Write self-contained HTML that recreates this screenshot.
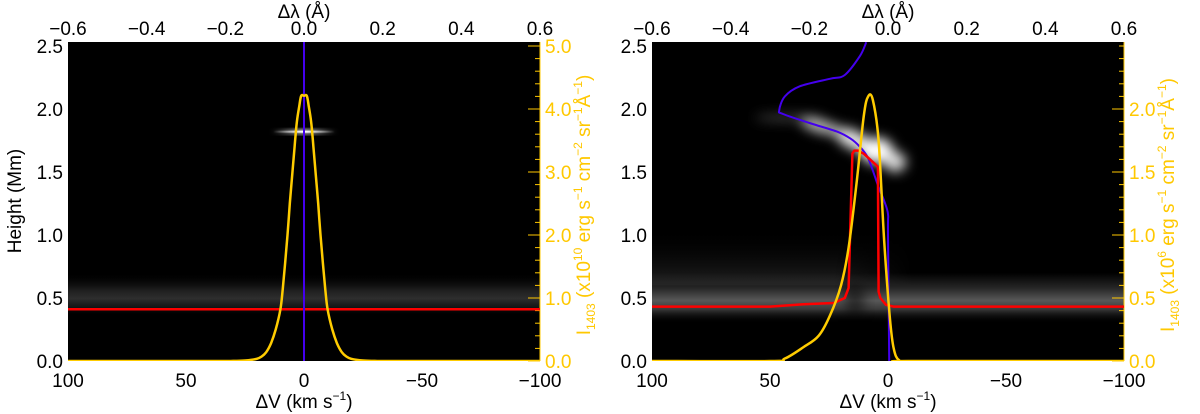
<!DOCTYPE html>
<html><head><meta charset="utf-8"><style>
html,body{margin:0;padding:0;background:#fff;}
svg{display:block;font-family:"Liberation Sans",sans-serif;}
</style></head><body>
<svg id="fig" width="1200" height="414" viewBox="0 0 1200 414" xmlns="http://www.w3.org/2000/svg">
<defs>
<filter id="b2" x="-50%" y="-50%" width="200%" height="200%"><feGaussianBlur stdDeviation="2"/></filter>
<filter id="b4" x="-50%" y="-50%" width="200%" height="200%"><feGaussianBlur stdDeviation="4"/></filter>
<filter id="b6" x="-50%" y="-50%" width="200%" height="200%"><feGaussianBlur stdDeviation="6"/></filter>
<linearGradient id="bandL" x1="0" y1="0" x2="0" y2="1">
<stop offset="0" stop-color="#000" stop-opacity="0"/><stop offset="0.4" stop-color="#1e1e1e"/><stop offset="0.6" stop-color="#2e2e2e"/><stop offset="0.8" stop-color="#161616"/><stop offset="1" stop-color="#000" stop-opacity="0"/></linearGradient>
<linearGradient id="bandR" x1="0" y1="0" x2="0" y2="1">
<stop offset="0" stop-color="#262626" stop-opacity="0"/><stop offset="0.3" stop-color="#262626"/><stop offset="0.55" stop-color="#585858"/><stop offset="0.72" stop-color="#3a3a3a"/><stop offset="1" stop-color="#000" stop-opacity="0"/></linearGradient>
<linearGradient id="hazeR" x1="0" y1="0" x2="0" y2="1">
<stop offset="0" stop-color="#000" stop-opacity="0"/><stop offset="1" stop-color="#222"/></linearGradient>
<linearGradient id="hazeRx" x1="0" y1="0" x2="1" y2="0">
<stop offset="0" stop-color="#fff"/><stop offset="0.7" stop-color="#fff"/><stop offset="1" stop-color="#fff" stop-opacity="0"/></linearGradient>
<mask id="hazeMask"><rect x="652" y="200" width="260" height="120" fill="url(#hazeRx)"/></mask>
<linearGradient id="streak" x1="0" y1="0" x2="1" y2="0">
<stop offset="0" stop-color="#fff" stop-opacity="0"/><stop offset="0.5" stop-color="#fff"/><stop offset="1" stop-color="#fff" stop-opacity="0"/></linearGradient>
<clipPath id="cpL"><rect x="68" y="42" width="472" height="319"/></clipPath>
<clipPath id="cpR"><rect x="652" y="42" width="472" height="319"/></clipPath>
</defs>
</svg>
<script>
// ---- data ----
const leftYellowV = [100,40,30,25,22,20,18,16,14,12,10,9,8,7,6,5,4,3,2,1.2,0,-1.2,-2,-3,-4,-5,-6,-7,-8,-9,-10,-12,-14,-16,-18,-20,-22,-25,-30,-40,-100];
const leftYellowI = [0,0,0.002,0.008,0.02,0.035,0.07,0.14,0.28,0.5,0.82,1.15,1.55,2.0,2.5,2.95,3.4,3.8,4.05,4.21,4.21,4.21,4.05,3.8,3.4,2.95,2.5,2.0,1.55,1.15,0.82,0.5,0.28,0.14,0.07,0.035,0.02,0.008,0.002,0,0];
const leftBlueV = [0,0];
const leftBlueH = [0,2.6];
const leftRedV = [100,-100];
const leftRedH = [0.41,0.41];
const rightBlueV = [9.2,11.9,18.3,24.6,37.4,43.7,46.1,44.5,32.6,21.5,15.9,11.9,8.7,6.4,4.0,1.6,0,0,-0.5];
const rightBlueH = [2.53,2.42,2.27,2.24,2.18,2.10,1.99,1.96,1.885,1.82,1.765,1.70,1.62,1.51,1.38,1.27,1.165,1.0,0];
const rightRedV = [100,50,35.8,23,18.3,16.7,15.1,14.3,12.7,10.3,5.6,4.3,4.0,3.2,0.8,-2.4,-100];
const rightRedH = [0.432,0.432,0.45,0.46,0.50,0.58,1.645,1.67,1.67,1.645,1.565,1.54,0.55,0.50,0.445,0.432,0.432];
const rightYellowV = [100,50,43.7,35.8,29.4,24.6,19.9,16.7,13.5,10.3,8.4,6.4,4.0,1.6,-0.8,-2.4,-4.8,-10,-100];
const rightYellowI = [0,0,0.02,0.11,0.2,0.36,0.6,0.9,1.38,1.94,2.1,2.07,1.75,0.95,0.34,0.1,0.005,0,0];
const vTicks = [100,50,0,-50,-100];
const vTickLabels = ["100","50","0","\u221250","\u2212100"];
const lamTicks = [-0.6,-0.4,-0.2,0.0,0.2,0.4,0.6];
const lamTickLabels = ["\u22120.6","\u22120.4","\u22120.2","0.0","0.2","0.4","0.6"];
const hTicks = [0,0.5,1.0,1.5,2.0,2.5];
const hTickLabels = ["0.0","0.5","1.0","1.5","2.0","2.5"];
const iTicksL = [0,1,2,3,4,5];
const iTickLabelsL = ["0.0","1.0","2.0","3.0","4.0","5.0"];
const iTicksR = [0,0.5,1.0,1.5,2.0];
const iTickLabelsR = ["0.0","0.5","1.0","1.5","2.0"];

const NS = "http://www.w3.org/2000/svg";
const svg = document.getElementById('fig');
function mk(tag, attrs, parent, text){
  const e = document.createElementNS(NS, tag);
  for (const k in attrs) e.setAttribute(k, attrs[k]);
  if (text !== undefined) e.textContent = text;
  (parent||svg).appendChild(e);
  return e;
}
const W = 472, TOP = 42, BOT = 361, FS = 19;
function xV(x0, v){ return x0 + (100 - v) / 200 * W; }
function xL(x0, l){ return x0 + (l + 0.6) / 1.2 * W; }
function yH(h){ return BOT - 126 * h; }
function yIL(i){ return BOT - 63 * i; }
function yIR(i){ return BOT - 126 * i; }
const YEL = "#ffc800";

function panel(x0, name, iTicks, iLabels, yI, iMax, minorStep, expo, clip){
  const g = mk('g', {});
  
  
  const bg = mk('rect', {x:x0, y:TOP, width:W, height:BOT-TOP, fill:'#000'}, g);
  
  
  const hm = mk('g', {'clip-path':'url(#'+clip+')'}, g);
  
  
  hTicks.forEach((h,k)=>{
    const t = mk('text', {x:x0-5, y:yH(h)+7, 'text-anchor':'end', 'font-size':FS, fill:'#000'}, g, hTickLabels[k]);
    
    
  });
  vTicks.forEach((v,k)=>{
    const t = mk('text', {x:xV(x0,v), y:387, 'text-anchor':'middle', 'font-size':FS, fill:'#000'}, g, vTickLabels[k]);
    
    
  });
  lamTicks.forEach((l,k)=>{
    const t = mk('text', {x:xL(x0,l), y:35, 'text-anchor':'middle', 'font-size':FS, fill:'#000'}, g, lamTickLabels[k]);
    
    
  });
  const xt = mk('text', {x:x0+W/2, y:408, 'text-anchor':'middle', 'font-size':FS, fill:'#000'}, g);
  xt.innerHTML = '\u0394V (km s<tspan dy="-8" font-size="12">\u22121</tspan><tspan dy="8">)</tspan>';
  
  
  const tt = mk('text', {x:x0+W/2, y:18, 'text-anchor':'middle', 'font-size':FS, fill:'#000'}, g, '\u0394\u03bb (\u00c5)');
  
  
  const ax = mk('g', {}, g);
  
  
  for (let v=0; v<=iMax+1e-6; v+=minorStep){
    const y = yI(v);
    if (y < TOP-1) break;
    mk('line', {x1:x0+W, x2:x0+W-5, y1:y, y2:y, stroke:YEL, 'stroke-width':1}, ax);
  }
  iTicks.forEach((v,k)=>{
    mk('line', {x1:x0+W, x2:x0+W-12, y1:yI(v), y2:yI(v), stroke:YEL, 'stroke-width':1}, ax);
    const t = mk('text', {x:x0+W+5, y:yI(v)+7, 'font-size':FS, fill:YEL}, ax, iLabels[k]);
    
    
  });
  mk('line', {x1:x0+W, x2:x0+W, y1:TOP, y2:BOT, stroke:YEL, 'stroke-width':1}, ax);
  const rx = x0 + W + 50, ry = 205;
  const rt = mk('text', {x:0, y:0, 'text-anchor':'middle', 'font-size':FS, fill:YEL, transform:'translate('+rx+','+ry+') rotate(-90)'}, g);
  rt.innerHTML = 'I<tspan dy="5" font-size="12">1403</tspan><tspan dy="-5"> (x10</tspan><tspan dy="-8" font-size="12">'+expo+'</tspan><tspan dy="8"> erg s</tspan><tspan dy="-8" font-size="12">\u22121</tspan><tspan dy="8"> cm</tspan><tspan dy="-8" font-size="12">\u22122</tspan><tspan dy="8"> sr</tspan><tspan dy="-8" font-size="12">\u22121</tspan><tspan dy="8">\u00c5</tspan><tspan dy="-8" font-size="12">\u22121</tspan><tspan dy="8">)</tspan>';
  
  
  return {g, hm};
}
function line(parent, xs, ys, color, width, name, smooth){
  let d;
  if (!smooth) {
    d = xs.map((x,k)=>(k?'L':'M')+x.toFixed(1)+','+ys[k].toFixed(1)).join(' ');
  } else {
    d = 'M'+xs[0].toFixed(1)+','+ys[0].toFixed(1);
    for (let k=0;k<xs.length-1;k++){
      const x0=xs[Math.max(k-1,0)], y0=ys[Math.max(k-1,0)];
      const x3=xs[Math.min(k+2,xs.length-1)], y3=ys[Math.min(k+2,xs.length-1)];
      const c1x=xs[k]+(xs[k+1]-x0)/6, c1y=ys[k]+(ys[k+1]-y0)/6;
      const c2x=xs[k+1]-(x3-xs[k])/6, c2y=ys[k+1]-(y3-ys[k])/6;
      d += ' C'+c1x.toFixed(1)+','+c1y.toFixed(1)+' '+c2x.toFixed(1)+','+c2y.toFixed(1)+' '+xs[k+1].toFixed(1)+','+ys[k+1].toFixed(1);
    }
  }
  const p = mk('path', {d, fill:'none', stroke:color, 'stroke-width':width, 'stroke-linejoin':'round'}, parent);
  
  
  return p;
}

// ---- left panel ----
const L = panel(68, 'left-panel', iTicksL, iTickLabelsL, yIL, 5, 0.2, '10', 'cpL');
mk('rect', {x:68, y:yH(0.7), width:W, height:yH(0.36)-yH(0.7), fill:'url(#bandL)'}, L.hm);
mk('ellipse', {cx:xV(68,0), cy:yH(1.82), rx:34, ry:2, fill:'url(#streak)', filter:'url(#b2)'}, L.hm);
mk('rect', {x:xV(68,13), y:yH(1.82)-1, width:xV(68,-13)-xV(68,13), height:2, fill:'url(#streak)'}, L.hm);
const lc = mk('g', {'clip-path':'url(#cpL)'}, L.g);
line(lc, leftRedV.map(v=>xV(68,v)), leftRedH.map(yH), '#ff0000', 2.5, 'left-red-line');
line(lc, leftBlueV.map(v=>xV(68,v)), leftBlueH.map(yH), '#4400ee', 2, 'left-blue-velocity-line');
line(lc, leftYellowV.map(v=>xV(68,v)), leftYellowI.map(yIL), '#ffcc00', 2.5, 'left-intensity-profile', true);
const yl = mk('text', {x:0, y:0, 'text-anchor':'middle', 'font-size':FS, fill:'#000', transform:'translate(21,201) rotate(-90)'}, L.g, 'Height (Mm)');



// ---- right panel ----
const R = panel(652, 'right-panel', iTicksR, iTickLabelsR, yIR, 2.53, 0.1, '6', 'cpR');
mk('rect', {x:652, y:yH(1.05), width:260, height:yH(0.6)-yH(1.05), fill:'url(#hazeR)', mask:'url(#hazeMask)'}, R.hm);
mk('rect', {x:652, y:yH(0.7), width:W, height:yH(0.3)-yH(0.7), fill:'url(#bandR)'}, R.hm);
mk('ellipse', {cx:xV(652,14), cy:yH(0.48), rx:10, ry:16, fill:'#000', filter:'url(#b6)', opacity:0.5}, R.hm);
const blob = mk('g', {filter:'url(#b6)'}, R.hm);
mk('ellipse', {cx:xV(652,42), cy:yH(1.93), rx:34, ry:2.5, fill:'#999', opacity:0.6}, blob);
mk('ellipse', {cx:xV(652,28), cy:yH(1.86), rx:22, ry:6, fill:'#ccc', transform:'rotate(15 '+xV(652,28)+' '+yH(1.86)+')'}, blob);
mk('ellipse', {cx:xV(652,15), cy:yH(1.76), rx:18, ry:9, fill:'#eee', transform:'rotate(25 '+xV(652,15)+' '+yH(1.76)+')'}, blob);
mk('ellipse', {cx:xV(652,5), cy:yH(1.67), rx:17, ry:13, fill:'#fff'}, blob);
mk('ellipse', {cx:xV(652,-3), cy:yH(1.58), rx:11, ry:10, fill:'#ddd'}, blob);
const rc = mk('g', {'clip-path':'url(#cpR)'}, R.g);
line(rc, rightBlueV.map(v=>xV(652,v)), rightBlueH.map(yH), '#4400ee', 2, 'right-blue-velocity-line', true);
line(rc, rightRedV.map(v=>xV(652,v)), rightRedH.map(yH), '#ff0000', 2.5, 'right-red-line');
line(rc, rightYellowV.map(v=>xV(652,v)), rightYellowI.map(yIR), '#ffcc00', 2.5, 'right-intensity-profile', true);
</script>
</body></html>
